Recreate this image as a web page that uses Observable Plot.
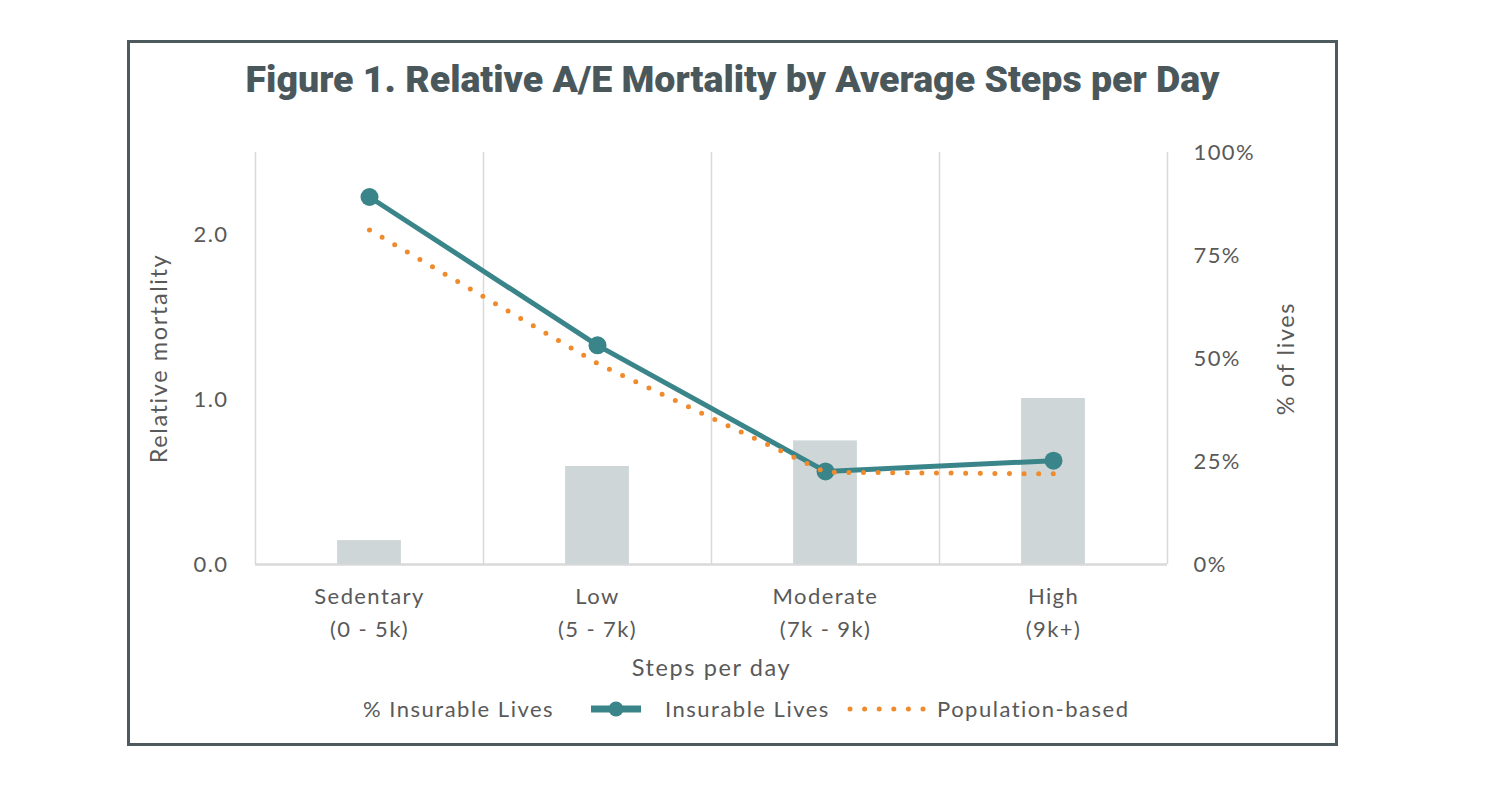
<!DOCTYPE html>
<html>
<head>
<meta charset="utf-8">
<script src="https://cdn.jsdelivr.net/npm/d3@7"></script>
<script src="https://cdn.jsdelivr.net/npm/@observablehq/plot@0.6"></script>
<style>
  body { margin: 0; background: #fff; font-family: Lato, sans-serif; }
  #wrap { position: relative; width: 1488px; height: 806px; }
  #frame { position: absolute; left: 127px; top: 40px; width: 1205px; height: 700px; border: 3px solid #4d5b5f; }
  #title { position: absolute; left: 127px; width: 1211px; top: 55px; text-align: center;
           font-family: Roboto, sans-serif; font-weight: 900; font-size: 37.5px; line-height: 48px; color: #4a585c; }
  #chart { position: absolute; left: 0; top: 0; }
  #chart svg text { letter-spacing: 1.4px; }
  #chart g[aria-label$="axis label"] text { font-size: 23.5px; letter-spacing: 1.6px; }
  .leg { position: absolute; top: 696px; font-size: 22px; letter-spacing: 1.5px; color: #595959; line-height: 26px; white-space: nowrap; }
  .sw { position: absolute; top: 697px; }
</style>
</head>
<body>
<div id="wrap">
  <div id="frame"></div>
  <div id="title">Figure 1. Relative A/E Mortality by Average Steps per Day</div>
  <div id="chart"></div>
  <div id="legend"></div>
</div>
<script>
const categories = ["Sedentary\n(0 - 5k)", "Low\n(5 - 7k)", "Moderate\n(7k - 9k)", "High\n(9k+)"];
const pctInsurableLives = [5.8, 23.8, 30.0, 40.3];
const insurableLives = [2.23, 1.33, 0.565, 0.63];
const populationBased = [2.03, 1.22, 0.56, 0.55];
const leftTicks = [0, 1, 2];
const rightTicks = [0, 25, 50, 75, 100];
const yMax = 2.5;

const teal = "#3a8589", orange = "#ef8b2c", barFill = "#cfd6d8", grid = "#d9d9d9";
const toLeft = p => p * yMax / 100;

const data = categories.map((c, i) => ({
  i, cat: c, pct: pctInsurableLives[i], ins: insurableLives[i], pop: populationBased[i]
}));
const boundaries = d3.range(categories.length + 1).map(i => i - 0.5);

const chart = Plot.plot({
  width: 1488,
  height: 700,
  marginLeft: 255,
  marginRight: 321,
  marginTop: 152,
  marginBottom: 136,
  x: { type: "linear", domain: [-0.5, categories.length - 0.5] },
  y: { domain: [0, yMax] },
  style: { fontFamily: "Lato, sans-serif", color: "#595959", background: "transparent", overflow: "visible" },
  marks: [
    Plot.ruleX(boundaries, { x: d => d, y1: 0, y2: yMax, stroke: grid, strokeWidth: 1.5 }),
    Plot.ruleY([0], { stroke: grid, strokeWidth: 2.5 }),
    Plot.rectY(data, { x1: d => d.i - 0.14, x2: d => d.i + 0.14, y1: 0, y2: d => toLeft(d.pct), fill: barFill }),
    Plot.line(data, { x: "i", y: "ins", stroke: teal, strokeWidth: 5 }),
    Plot.dot(data, { x: "i", y: "ins", r: 9, fill: teal }),
    Plot.line(data, { x: "i", y: "pop", stroke: orange, strokeWidth: 5, strokeDasharray: "0 14.6", strokeLinecap: "round" }),
    Plot.axisY({ anchor: "left", ticks: leftTicks, tickFormat: d3.format(".1f"), tickSize: 0, tickPadding: 27,
      fontSize: 22, label: "Relative mortality", labelAnchor: "center", labelOffset: 105, labelArrow: "none" }),
    Plot.axisY({ anchor: "right", ticks: rightTicks.map(toLeft), tickFormat: v => Math.round(v / yMax * 100) + "%",
      tickSize: 0, tickPadding: 26, fontSize: 22, label: "% of lives", labelAnchor: "center", labelOffset: 126, labelArrow: "none" }),
    Plot.axisX({ ticks: d3.range(categories.length), tickFormat: i => categories[i], tickSize: 0, tickPadding: 16,
      lineHeight: 1.5, fontSize: 22, label: "Steps per day", labelAnchor: "center", labelOffset: 111, labelArrow: "none" })
  ]
});
document.getElementById("chart").appendChild(chart);

// legend
const legend = document.getElementById("legend");
legend.innerHTML = `
  <span class="leg" style="left:363px">% Insurable Lives</span>
  <svg class="sw" style="left:590px" width="52" height="24"><line x1="1" x2="51" y1="12" y2="12" stroke="${teal}" stroke-width="7"/><circle cx="26" cy="12" r="7.5" fill="${teal}"/></svg>
  <span class="leg" style="left:665px">Insurable Lives</span>
  <svg class="sw" style="left:846px" width="92" height="24"><line x1="4" x2="90" y1="12" y2="12" stroke="${orange}" stroke-width="5" stroke-linecap="round" stroke-dasharray="0 14.6"/></svg>
  <span class="leg" style="left:937px">Population-based</span>
`;
</script>
</body>
</html>
